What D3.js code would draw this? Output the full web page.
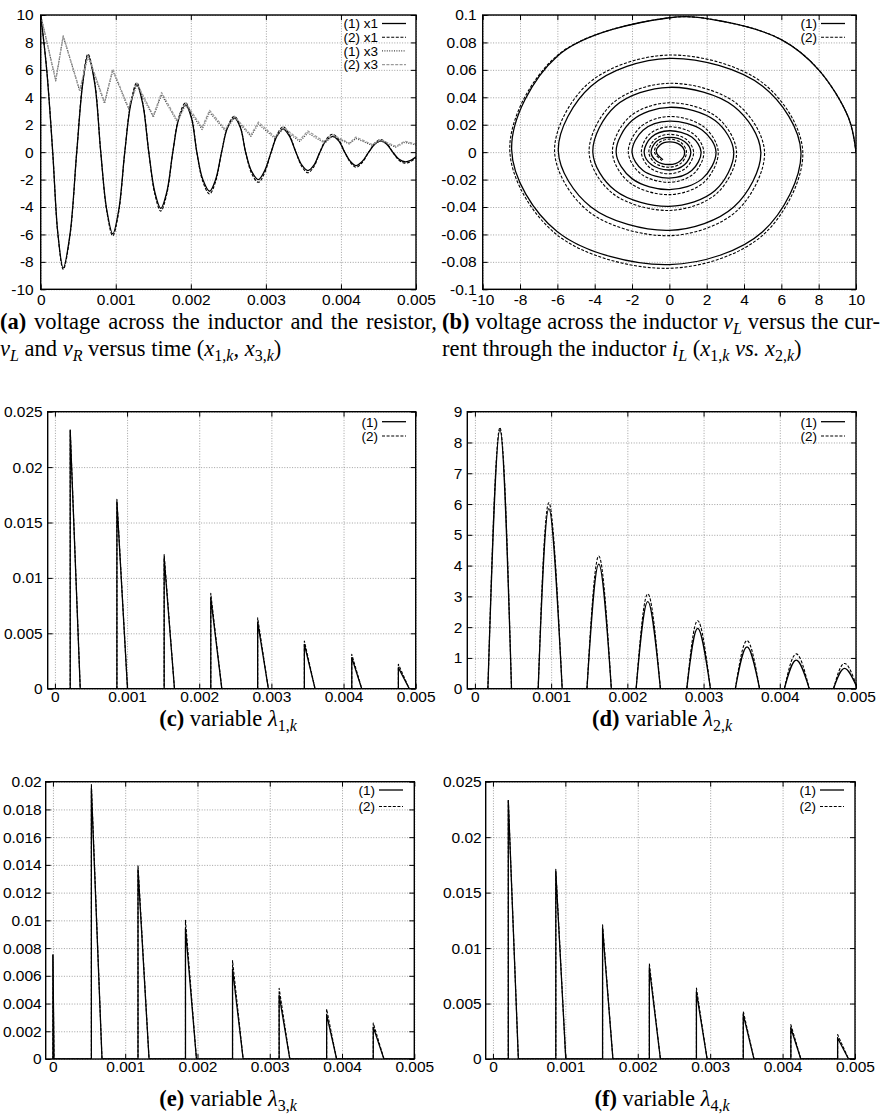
<!DOCTYPE html>
<html>
<head>
<meta charset="utf-8">
<script src="https://cdn.jsdelivr.net/npm/d3@7/dist/d3.min.js"></script>
<style>
body { margin: 0; background: #fff; }
text { font-family: "Liberation Sans", Arial, Helvetica, sans-serif; fill: #000; }
text.cap { font-family: "Liberation Serif", "Times New Roman", serif; }
.grid line { stroke: #8a8a8a; stroke-width: 0.8; stroke-dasharray: 1,1.6; }
.grid path, .tk path { display: none; }
.tk line { stroke: #000; stroke-width: 1; }
</style>
</head>
<body>
<script>
// ---- tick values ----
var timeTicks = [0, 0.001, 0.002, 0.003, 0.004, 0.005];
var aYTicks = [-10, -8, -6, -4, -2, 0, 2, 4, 6, 8, 10];
var bXTicks = [-10, -8, -6, -4, -2, 0, 2, 4, 6, 8, 10];
var bYTicks = [-0.1, -0.08, -0.06, -0.04, -0.02, 0, 0.02, 0.04, 0.06, 0.08, 0.1];
var cYTicks = [0, 0.005, 0.01, 0.015, 0.02, 0.025];
var dYTicks = [0, 1, 2, 3, 4, 5, 6, 7, 8, 9];
var eYTicks = [0, 0.002, 0.004, 0.006, 0.008, 0.01, 0.012, 0.014, 0.016, 0.018, 0.02];

// ---- (a) x1 and x3 versus time, [t, value] ----
var x1Run1 = [[0,10],[0.00008,6.0],[0.00016,0],[0.00023,-6.0],[0.0003,-8.45],[0.00039,-6.0],[0.00048,0],[0.00056,5.0],[0.00063,7.05],[0.00072,5.0],[0.0008,0],[0.00088,-4.2],[0.00096,-5.95],[0.00104,-4.2],[0.00112,0],[0.0012,3.5],[0.00128,4.9],[0.00136,3.5],[0.00144,0],[0.00152,-2.9],[0.0016,-4.1],[0.00168,-2.9],[0.00176,0],[0.00184,2.45],[0.00193,3.45],[0.00201,2.45],[0.00208,0],[0.00216,-2.0],[0.00225,-2.85],[0.00233,-2.0],[0.00241,0],[0.00249,1.8],[0.00258,2.5],[0.00266,1.8],[0.00273,0],[0.00281,-1.4],[0.0029,-2.0],[0.00298,-1.4],[0.00307,0],[0.00315,1.2],[0.00323,1.7],[0.00331,1.2],[0.0034,0],[0.00348,-0.95],[0.00356,-1.35],[0.00364,-0.95],[0.00372,0],[0.0038,0.82],[0.00389,1.15],[0.00397,0.82],[0.00405,0],[0.00413,-0.7],[0.0042,-0.98],[0.00428,-0.7],[0.00437,0],[0.00445,0.58],[0.00453,0.82],[0.00461,0.58],[0.00469,0],[0.00477,-0.5],[0.00485,-0.7],[0.00493,-0.6],[0.005,-0.34]];
var x1Run2 = [[0,10],[0.00008,6.05],[0.00016,0],[0.00023,-6.05],[0.0003,-8.55],[0.00039,-6.1],[0.00048,0],[0.00056,5.1],[0.00063,7.15],[0.00072,5.1],[0.0008,0],[0.00088,-4.3],[0.00096,-6.1],[0.00104,-4.35],[0.00112,0],[0.0012,3.6],[0.00128,5.05],[0.00136,3.6],[0.00144,0],[0.00152,-3.05],[0.0016,-4.3],[0.00168,-3.05],[0.00176,0],[0.00184,2.55],[0.00193,3.6],[0.00201,2.55],[0.00208,0],[0.00216,-2.15],[0.00225,-3.05],[0.00233,-2.15],[0.00241,0],[0.00249,1.85],[0.00258,2.62],[0.00266,1.85],[0.00273,0],[0.00281,-1.55],[0.0029,-2.2],[0.00298,-1.55],[0.00307,0],[0.00315,1.3],[0.00323,1.85],[0.00331,1.3],[0.0034,0],[0.00348,-1.06],[0.00356,-1.5],[0.00364,-1.06],[0.00372,0],[0.0038,0.92],[0.00389,1.3],[0.00397,0.92],[0.00405,0],[0.00413,-0.78],[0.0042,-1.1],[0.00428,-0.78],[0.00437,0],[0.00445,0.65],[0.00453,0.92],[0.00461,0.65],[0.00469,0],[0.00477,-0.57],[0.00485,-0.8],[0.00493,-0.68],[0.005,-0.42]];
var x3Run1 = [[0,10],[0.0002,5.2],[0.0003,8.45],[0.00052,4.45],[0.00063,7.0],[0.00085,3.55],[0.00096,5.95],[0.00117,3.15],[0.00128,4.9],[0.0015,2.55],[0.00161,4.2],[0.00182,2.2],[0.00193,3.45],[0.00215,1.65],[0.00225,2.9],[0.00246,1.55],[0.00258,2.5],[0.0028,1.15],[0.0029,2.05],[0.00312,1.0],[0.00323,1.7],[0.00345,0.78],[0.00356,1.4],[0.00378,0.65],[0.00389,1.15],[0.00411,0.6],[0.0042,1.0],[0.00442,0.48],[0.00453,0.82],[0.00473,0.36],[0.00485,0.72],[0.005,0.52]];
var x3Run2 = [[0,10],[0.0002,5.25],[0.0003,8.5],[0.00052,4.5],[0.00063,7.1],[0.00085,3.65],[0.00096,6.05],[0.00117,3.25],[0.00128,5.05],[0.0015,2.65],[0.00161,4.35],[0.00182,2.3],[0.00193,3.6],[0.00215,1.8],[0.00225,3.05],[0.00246,1.65],[0.00258,2.62],[0.0028,1.25],[0.0029,2.2],[0.00312,1.1],[0.00323,1.85],[0.00345,0.88],[0.00356,1.55],[0.00378,0.75],[0.00389,1.28],[0.00411,0.65],[0.0042,1.1],[0.00442,0.55],[0.00453,0.92],[0.00473,0.42],[0.00485,0.8],[0.005,0.58]];

// ---- (b) phase portrait, [x1, x2] ----
var spiralRun1 = [[10,0],[9.6,0.025],[8,0.06],[6,0.082],[3,0.095],[0,0.098],[-6.0,0.07],[-8.45,0.002],[-6.0,-0.058],[0,-0.082],[5.0,-0.058],[7.05,0],[5.0,0.048],[0,0.0684],[-4.2,0.048],[-5.95,0.001],[-4.2,-0.04],[0,-0.057],[3.45,-0.04],[4.9,0],[3.45,0.0335],[0,0.0473],[-2.9,0.0335],[-4.1,0],[-2.9,-0.028],[0,-0.0395],[2.45,-0.028],[3.45,0],[2.45,0.023],[0,0.0327],[-2.0,0.023],[-2.85,0],[-2.0,-0.0193],[0,-0.0273],[1.77,-0.0193],[2.5,0],[1.77,0.016],[0,0.0226],[-1.41,0.016],[-2.0,0],[-1.41,-0.0134],[0,-0.0189],[1.2,-0.0134],[1.7,0],[1.2,0.011],[0,0.0156],[-0.95,0.011],[-1.35,0],[-0.95,-0.0092],[0,-0.013],[0.81,-0.0092],[1.15,0],[0.81,0.0077],[0,0.0108],[-0.69,0.0077],[-0.98,0],[-0.69,-0.0064],[0,-0.009],[0.58,-0.0064],[0.82,0],[0.58,0.0053],[0,0.0075],[-0.5,0.0053],[-0.7,0],[-0.34,-0.0055]];
var spiralRun2 = [[10,0],[9.6,0.025],[8,0.06],[6,0.082],[3,0.095],[0,0.098],[-6.05,0.07],[-8.55,0.002],[-6.05,-0.06],[0,-0.0847],[5.05,-0.06],[7.15,0],[5.05,0.05],[0,0.0708],[-4.35,0.05],[-6.15,0.001],[-4.35,-0.043],[0,-0.0609],[3.6,-0.043],[5.1,0],[3.6,0.0355],[0,0.0502],[-3.05,0.0355],[-4.3,0],[-3.05,-0.03],[0,-0.0425],[2.55,-0.03],[3.6,0],[2.55,0.0255],[0,0.036],[-2.15,0.0255],[-3.05,0],[-2.15,-0.022],[0,-0.031],[1.85,-0.022],[2.62,0],[1.85,0.0184],[0,0.026],[-1.55,0.0184],[-2.2,0],[-1.55,-0.0156],[0,-0.022],[1.31,-0.0156],[1.85,0],[1.31,0.0131],[0,0.0185],[-1.06,0.0131],[-1.5,0],[-1.06,-0.0112],[0,-0.0158],[0.92,-0.0112],[1.3,0],[0.92,0.0092],[0,0.013],[-0.78,0.0092],[-1.1,0],[-0.78,-0.0078],[0,-0.011],[0.65,-0.0078],[0.92,0],[0.65,0.0067],[0,0.0095],[-0.57,0.0067],[-0.8,0],[-0.4,-0.0062]];

// ---- (c) lambda1: spike start, end, peak ----
var lam1Start = [0.000212, 0.000859, 0.001514, 0.00216, 0.00281, 0.003457, 0.004114, 0.00476];
var lam1End = [0.000351, 0.001006, 0.001657, 0.002313, 0.002958, 0.003605, 0.004252, 0.004911];
var lam1Peak1 = [0.0233, 0.0169, 0.0118, 0.0082, 0.0060, 0.0040, 0.0028, 0.0019];
var lam1Peak2 = [0.0234, 0.0171, 0.0121, 0.0086, 0.0064, 0.0043, 0.0031, 0.0022];

// ---- (d) lambda2: arch start, top, end, peak ----
var lam2Start = [0.00017, 0.00083, 0.00147, 0.002115, 0.00278, 0.003417, 0.00406, 0.004705];
var lam2Top = [0.000328, 0.00097, 0.001625, 0.002268, 0.002923, 0.00357, 0.004216, 0.00485];
var lam2End = [0.00048, 0.001145, 0.00179, 0.002434, 0.00309, 0.003735, 0.004387, 0.00502];
var lam2Peak1 = [8.40, 5.85, 4.05, 2.83, 1.96, 1.36, 0.93, 0.66];
var lam2Peak2 = [8.48, 6.04, 4.31, 3.08, 2.21, 1.56, 1.13, 0.82];

// ---- (e) lambda3 ----
var lam3Start = [0, 0.000532, 0.001177, 0.001834, 0.002485, 0.00313, 0.003787, 0.004432];
var lam3End = [0.000015, 0.000679, 0.00133, 0.001986, 0.002632, 0.003278, 0.003925, 0.00458];
var lam3Peak1 = [0.0075, 0.0195, 0.0137, 0.0094, 0.0065, 0.0046, 0.0032, 0.0023];
var lam3Peak2 = [0.0075, 0.0198, 0.0140, 0.0100, 0.0071, 0.0051, 0.0036, 0.0026];

// ---- (f) lambda4 ----
var lam4Start = [0.000212, 0.000868, 0.001514, 0.00216, 0.00281, 0.003457, 0.004114, 0.00476];
var lam4End = [0.000351, 0.001006, 0.001657, 0.002313, 0.002958, 0.003605, 0.004252, 0.004911];
var lam4Peak1 = [0.0233, 0.0169, 0.0118, 0.0082, 0.0060, 0.0040, 0.0028, 0.0019];
var lam4Peak2 = [0.0234, 0.0171, 0.0121, 0.0086, 0.0064, 0.0043, 0.0031, 0.0022];

var svg = d3.select("body").append("svg")
    .attr("width", 880)
    .attr("height", 1114);

var styleRun1 = {stroke: "#000", dash: null, width: 1.3};
var styleRun2 = {stroke: "#000", dash: "3,1.6", width: 1.1};
var styleX3a = {stroke: "#444", dash: "1,1.4", width: 1.2};
var styleX3b = {stroke: "#9a9a9a", dash: "3,1.4", width: 1.2};

// polyline of spikes along the zero line
function spikePath(start, end, peak) {
    var pts = [[0, 0]];
    start.forEach(function(t0, i) {
        pts.push([t0, 0], [t0, peak[i]], [end[i], 0]);
    });
    pts.push([0.005, 0]);
    return pts;
}

function panel(p) {
    var x = d3.scaleLinear().domain(p.xDomain).range([p.left, p.right]);
    var y = d3.scaleLinear().domain(p.yDomain).range([p.bottom, p.top]);
    var w = p.right - p.left, h = p.bottom - p.top;
    var g = svg.append("g");

    g.append("clipPath").attr("id", "clip" + p.id)
        .append("rect").attr("x", p.left).attr("y", p.top).attr("width", w).attr("height", h);

    // dotted grid
    g.append("g").attr("class", "grid")
        .attr("transform", "translate(0," + p.bottom + ")")
        .call(d3.axisBottom(x).tickValues(p.xTicks).tickSize(-h).tickFormat(""));
    g.append("g").attr("class", "grid")
        .attr("transform", "translate(" + p.left + ",0)")
        .call(d3.axisLeft(y).tickValues(p.yTicks).tickSize(-w).tickFormat(""));

    var line = d3.line().x(function(d) { return x(d[0]); }).y(function(d) { return y(d[1]); });
    var plot = g.append("g").attr("clip-path", "url(#clip" + p.id + ")");
    p.series.forEach(function(s) {
        (s.segments || [s.data]).forEach(function(seg) {
            plot.append("path").datum(seg)
                .attr("fill", "none")
                .attr("stroke", s.style.stroke)
                .attr("stroke-width", s.style.width)
                .attr("stroke-dasharray", s.style.dash)
                .attr("stroke-linejoin", "round")
                .attr("d", line.curve(s.curve || d3.curveLinear));
        });
    });

    // inward ticks on all four sides, labels left and bottom
    var fmt = function(d) { return String(d); };
    g.append("g").attr("class", "tk").attr("transform", "translate(0," + p.bottom + ")")
        .call(d3.axisBottom(x).tickValues(p.xTicks).tickSize(-5).tickPadding(p.xPad).tickFormat(fmt));
    g.append("g").attr("class", "tk").attr("transform", "translate(0," + p.top + ")")
        .call(d3.axisTop(x).tickValues(p.xTicks).tickSize(-5).tickFormat(""));
    g.append("g").attr("class", "tk").attr("transform", "translate(" + p.left + ",0)")
        .call(d3.axisLeft(y).tickValues(p.yTicks).tickSize(-5).tickPadding(p.yPad).tickFormat(fmt));
    g.append("g").attr("class", "tk").attr("transform", "translate(" + p.right + ",0)")
        .call(d3.axisRight(y).tickValues(p.yTicks).tickSize(-5).tickFormat(""));
    g.selectAll(".tk text").attr("font-size", 15.5).attr("font-family", null);

    g.append("rect")
        .attr("x", p.left).attr("y", p.top).attr("width", w).attr("height", h)
        .attr("fill", "none").attr("stroke", "#000").attr("stroke-width", 1.4);

    // key
    var k = p.key;
    p.series.forEach(function(s, i) {
        if (!s.label) return;
        var ky = k.y + i * k.dy;
        g.append("text").attr("x", k.x).attr("y", ky).attr("dy", "0.36em")
            .attr("text-anchor", "end").attr("font-size", 13.5).text(s.label);
        g.append("line").attr("x1", k.x + 4).attr("x2", k.x + 28).attr("y1", ky).attr("y2", ky)
            .attr("stroke", s.style.stroke).attr("stroke-width", s.style.width)
            .attr("stroke-dasharray", s.style.dash);
    });
}

function caption(x, y, parts, anchor, width) {
    var t = svg.append("text").attr("class", "cap")
        .attr("x", x).attr("y", y).attr("font-size", 22.5)
        .attr("text-anchor", anchor || "start");
    var shift = 0;
    parts.forEach(function(q) {
        var st = q[1] || "";
        var s = t.append("tspan").text(q[0]);
        if (st.indexOf("b") >= 0) s.attr("font-weight", "bold");
        if (st.indexOf("i") >= 0) s.attr("font-style", "italic");
        var target = st.indexOf("s") >= 0 ? 5 : 0;
        if (target !== shift) { s.attr("dy", target - shift); shift = target; }
        if (st.indexOf("s") >= 0) s.attr("font-size", 16);
    });
    if (width) {
        var len = t.node().getComputedTextLength();
        var spaces = (t.text().match(/ /g) || []).length;
        t.attr("word-spacing", (width - len) / spaces);
    }
}

// (a)
panel({id: "a", left: 40.7, right: 416, top: 15, bottom: 289.3,
    xDomain: [0, 0.005], yDomain: [-10, 10], xTicks: timeTicks, yTicks: aYTicks, xPad: 5, yPad: 7,
    key: {x: 378, y: 23.5, dy: 13.7},
    series: [
        {label: "(1) x1", data: x1Run1, style: styleRun1, curve: d3.curveCatmullRom},
        {label: "(2) x1", data: x1Run2, style: styleRun2, curve: d3.curveCatmullRom},
        {label: "(1) x3", data: x3Run1, style: styleX3a},
        {label: "(2) x3", data: x3Run2, style: styleX3b}
    ]});

// (b)
panel({id: "b", left: 482.7, right: 856, top: 15, bottom: 289.3,
    xDomain: [-10, 10], yDomain: [-0.1, 0.1], xTicks: bXTicks, yTicks: bYTicks, xPad: 5, yPad: 6,
    key: {x: 817, y: 23.5, dy: 13.7},
    series: [
        {label: "(1)", data: spiralRun1, style: styleRun1, curve: d3.curveCatmullRom},
        {label: "(2)", data: spiralRun2, style: styleRun2, curve: d3.curveCatmullRom}
    ]});

// (c)
panel({id: "c", left: 47.7, right: 415.7, top: 411.7, bottom: 688.7,
    xDomain: [-0.0001, 0.005], yDomain: [0, 0.025], xTicks: timeTicks, yTicks: cYTicks, xPad: 2, yPad: 5,
    key: {x: 378, y: 421.7, dy: 14.3},
    series: [
        {label: "(1)", data: spikePath(lam1Start, lam1End, lam1Peak1), style: styleRun1},
        {label: "(2)", data: spikePath(lam1Start, lam1End, lam1Peak2), style: styleRun2}
    ]});

// (d)
function arches(peaks) {
    var segs = [[[0, 0], [0.005, 0]]];
    lam2Start.forEach(function(t0, i) {
        segs.push([[t0, 0], [lam2Top[i], peaks[i]], [lam2End[i], 0]]);
    });
    return segs;
}
panel({id: "d", left: 467.3, right: 856, top: 411.7, bottom: 688.7,
    xDomain: [-0.0001, 0.005], yDomain: [0, 9], xTicks: timeTicks, yTicks: dYTicks, xPad: 2, yPad: 5,
    key: {x: 817, y: 421.7, dy: 14.3},
    series: [
        {label: "(1)", segments: arches(lam2Peak1), style: styleRun1, curve: d3.curveNatural},
        {label: "(2)", segments: arches(lam2Peak2), style: styleRun2, curve: d3.curveNatural}
    ]});

// (e)
panel({id: "e", left: 45.7, right: 414.3, top: 781.7, bottom: 1059,
    xDomain: [-0.0001, 0.005], yDomain: [0, 0.02], xTicks: timeTicks, yTicks: eYTicks, xPad: 2, yPad: 4,
    key: {x: 375, y: 790, dy: 16.5},
    series: [
        {label: "(1)", data: spikePath(lam3Start, lam3End, lam3Peak1), style: styleRun1},
        {label: "(2)", data: spikePath(lam3Start, lam3End, lam3Peak2), style: styleRun2}
    ]});

// (f)
panel({id: "f", left: 485.7, right: 855, top: 781.7, bottom: 1059,
    xDomain: [-0.0001, 0.005], yDomain: [0, 0.025], xTicks: timeTicks, yTicks: cYTicks, xPad: 2, yPad: 4,
    key: {x: 816, y: 790, dy: 16.5},
    series: [
        {label: "(1)", data: spikePath(lam4Start, lam4End, lam4Peak1), style: styleRun1},
        {label: "(2)", data: spikePath(lam4Start, lam4End, lam4Peak2), style: styleRun2}
    ]});

// captions
caption(0, 329, [["(a)", "b"], [" voltage across the inductor and the resistor,"]], "start", 437);
caption(0, 356, [["v", "i"], ["L", "si"], [" and "], ["v", "i"], ["R", "si"], [" versus time ("],
    ["x", "i"], ["1,", "s"], ["k", "si"], [", "], ["x", "i"], ["3,", "s"], ["k", "si"], [")"]]);
caption(442, 329, [["(b)", "b"], [" voltage across the inductor "], ["v", "i"], ["L", "si"],
    [" versus the cur-"]], "start", 438);
caption(442, 356, [["rent through the inductor "], ["i", "i"], ["L", "si"], [" ("], ["x", "i"], ["1,", "s"],
    ["k", "si"], [" "], ["vs.", "i"], [" "], ["x", "i"], ["2,", "s"], ["k", "si"], [")"]]);
caption(228, 726, [["(c)", "b"], [" variable "], ["\u03bb", "i"], ["1,", "s"], ["k", "si"]], "middle");
caption(662, 726, [["(d)", "b"], [" variable "], ["\u03bb", "i"], ["2,", "s"], ["k", "si"]], "middle");
caption(228, 1106, [["(e)", "b"], [" variable "], ["\u03bb", "i"], ["3,", "s"], ["k", "si"]], "middle");
caption(662, 1106, [["(f)", "b"], [" variable "], ["\u03bb", "i"], ["4,", "s"], ["k", "si"]], "middle");
</script>
</body>
</html>
